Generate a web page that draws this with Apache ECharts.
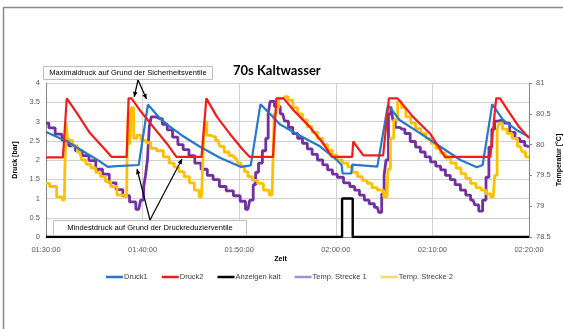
<!DOCTYPE html>
<html>
<head>
<meta charset="utf-8">
<script src="https://cdn.jsdelivr.net/npm/echarts@6/dist/echarts.min.js"></script>
<style>
html,body{margin:0;padding:0;background:#fff;}
#chart{width:563px;height:329px;}
</style>
</head>
<body>
<div id="chart"></div>
<script>
// ---- data (x = minutes after 01:30:00) ----
const xTickLabels = ['01:30:00','01:40:00','01:50:00','02:00:00','02:10:00','02:20:00'];
const seriesNames = ['Druck1','Druck2','Anzeigen kalt','Temp. Strecke 1','Temp. Strecke 2'];

const druck1 = [
[0,2.73],[2.2,2.48],[4.0,2.2],[5.6,1.96],[6.4,1.82],[7.3,1.84],[9.6,1.87],[10.55,3.44],
[11.8,3.08],[12.8,2.87],[14.0,2.65],[15.9,2.35],[18.0,2.06],[20.2,1.82],[21.2,1.86],[22.2,3.45],
[23.5,3.12],[24.2,2.93],[26.3,2.63],[28.4,2.35],[30.1,2.0],[30.6,1.87],[30.7,1.65],[31.6,1.65],[31.7,1.88],[34.3,1.83],[35.4,3.43],
[36.6,3.04],[38.7,2.7],[40.8,2.35],[42.9,2.0],[44.6,1.81],[45.2,1.87],[46.2,3.45],
[47.3,3.04],[48.7,2.78],[50,2.6]
];

const druck2 = [
[0,2.07],[1.75,2.07],[2.15,3.6],[3.2,3.22],[4.55,2.7],[6.3,2.22],[6.8,2.08],[8.35,2.08],[8.55,3.6],[8.85,3.6],
[9.7,3.3],[11.1,2.86],[12.5,2.43],[13.5,2.08],[16.1,2.08],[16.6,3.6],[17.7,3.12],[19.0,2.69],[20.4,2.26],[21.1,2.08],
[23.5,2.08],[23.85,3.6],[24.6,3.6],[25.6,3.3],[27.3,2.86],[28.7,2.43],[29.6,2.08],[31.7,2.08],[31.8,2.48],[32.85,2.12],
[34.9,2.12],[35.5,3.6],[36.4,3.6],[38.0,3.12],[39.75,2.69],[41.3,2.08],[46.0,2.08],[46.6,3.6],[47.0,3.6],[48.0,3.22],[49.0,2.85],[50,2.57]
];

const anzeigenKalt = [[0,0],[30.65,0],[30.65,1],[31.75,1],[31.75,0],[50,0]];

const temp1 = [
[0,80.35],[0.6,80.27],[1.3,80.17],[2.0,80.07],[2.7,79.98],[3.4,79.9],[4.1,79.82],[4.8,79.74],[5.5,79.6],[6.2,79.52],
[6.9,79.38],[7.6,79.27],[8.3,79.17],[9.0,79.07],[9.6,78.95],[10.0,79.1],[10.2,79.3],[10.4,79.5],[10.6,79.75],[10.8,80.3],
[11.0,80.45],[11.8,80.42],[12.3,80.33],[12.8,80.24],[13.4,80.12],[13.9,80.0],[14.5,79.92],[15.1,79.82],[15.7,79.7],[16.4,79.6],
[17.0,79.5],[17.6,79.43],[18.3,79.32],[19.0,79.25],[19.8,79.17],[20.4,79.08],[20.9,78.95],[21.3,79.1],[21.6,79.35],[21.8,79.55],
[22.2,79.7],[22.6,79.9],[22.9,80.1],[23.1,80.5],[23.3,80.7],[24.0,80.62],[24.5,80.5],[24.9,80.38],[25.3,80.28],[25.8,80.18],
[26.3,80.1],[26.8,80.02],[27.3,79.93],[27.8,79.84],[28.4,79.75],[28.9,79.67],[29.4,79.59],[29.9,79.52],[30.4,79.47],[31.2,79.38],
[31.7,79.32],[32.2,79.26],[32.7,79.18],[33.2,79.1],[33.7,79.04],[34.3,78.98],[34.6,78.9],[34.9,79.2],[35.1,79.5],[35.3,79.75],
[35.6,80.5],[35.8,80.62],[36.0,80.4],[36.3,80.28],[36.9,80.25],[37.4,80.18],[38.0,80.05],[38.5,79.96],[39.0,79.88],[39.5,79.8],
[40.1,79.72],[40.6,79.65],[41.1,79.59],[41.6,79.5],[42.1,79.43],[42.6,79.35],[43.2,79.26],[43.7,79.18],[44.2,79.1],[44.6,79.02],
[45.0,78.92],[45.4,79.1],[45.7,79.47],[46.0,79.96],[46.3,80.25],[46.6,80.38],[47.0,80.4],[47.7,80.35],[48.3,80.2],[48.8,80.1],
[49.3,80.05],[49.8,79.98],[50,79.96]
];

const temp2 = [
[0,79.37],[0.75,79.32],[1.45,79.15],[1.9,79.1],[2.0,79.6],[2.15,80.35],[2.3,80.1],[2.5,80.07],[3.0,79.98],[3.5,79.88],
[3.9,79.75],[4.4,79.68],[4.9,79.62],[5.4,79.55],[5.9,79.48],[6.4,79.4],[7.0,79.32],[7.7,79.18],[8.35,79.15],[8.45,80.0],
[8.6,80.55],[8.75,80.0],[8.95,80.6],[9.2,80.1],[9.6,80.15],[10.1,80.07],[10.6,80.03],[11.1,79.94],[11.8,79.9],[12.5,79.8],
[13.0,79.7],[13.5,79.64],[14.0,79.56],[14.6,79.48],[15.1,79.38],[15.6,79.26],[16.1,79.15],[16.3,79.6],[16.5,80.37],[16.8,80.15],
[17.3,80.13],[17.8,80.07],[18.2,79.97],[18.7,79.88],[19.2,79.82],[19.7,79.78],[20.0,79.7],[20.4,79.64],[20.7,79.56],[21.1,79.48],
[21.6,79.42],[22.2,79.37],[22.8,79.26],[23.4,79.18],[23.55,79.6],[23.7,80.5],[24.0,80.6],[24.2,80.75],[24.8,80.78],[25.3,80.72],
[25.8,80.6],[26.3,80.5],[26.8,80.4],[27.3,80.29],[27.8,80.2],[28.4,80.1],[28.9,80.0],[29.4,79.91],[29.9,79.83],[30.4,79.75],
[31.0,79.7],[31.5,79.64],[32.0,79.55],[32.5,79.48],[33.0,79.42],[33.5,79.37],[34.0,79.3],[34.6,79.26],[35.3,79.15],[35.5,79.6],
[35.8,80.1],[36.2,80.4],[36.6,80.7],[37.0,80.6],[37.5,80.45],[38.0,80.35],[38.5,80.26],[39.1,80.18],[39.6,80.1],[40.1,80.02],
[40.6,79.94],[41.1,79.86],[41.6,79.78],[42.2,79.7],[42.7,79.62],[43.2,79.53],[43.7,79.45],[44.2,79.37],[44.8,79.3],[45.3,79.26],
[45.8,79.2],[46.3,79.15],[46.6,79.5],[46.8,80.24],[47.0,80.35],[47.5,80.25],[48.0,80.18],[48.5,80.1],[49.1,79.97],[49.5,79.88],
[49.8,79.8],[50,79.8]
];

const titleText = '70s Kaltwasser';
const rightAxisTitle = 'Temperatur [°C]';
const noteTop = 'Maximaldruck auf Grund der Sicherheitsventile';
const noteBottom = 'Mindestdruck auf Grund der Druckreduzierventile';

// ---- chart ----
const colors = ['#2878C8','#F21C1C','#000000','#7030A0','#FFC000'];
const font = 'Liberation Sans, Arial, sans-serif';

function arrowHead(x1,y1,x2,y2){
  const dx=x2-x1, dy=y2-y1, L=Math.hypot(dx,dy), ux=dx/L, uy=dy/L;
  const len=5, hw=2.3;
  const bx=x2-ux*len, by=y2-uy*len;
  return {type:'polygon', z:100, silent:true,
    shape:{points:[[x2,y2],[bx-uy*hw,by+ux*hw],[bx+uy*hw,by-ux*hw]]},
    style:{fill:'#000'}};
}
function seg(x1,y1,x2,y2){
  return {type:'line', z:100, silent:true, shape:{x1,y1,x2,y2}, style:{stroke:'#000', lineWidth:1.2}};
}

const chart = echarts.init(document.getElementById('chart'), null, {renderer:'canvas'});
const lineSeries = (name, data, idx, width, extra) => Object.assign({
  name, type:'line', data, yAxisIndex: idx, showSymbol:false, symbol:'none',
  lineStyle:{width, color: colors[seriesNames.indexOf(name)]},
  itemStyle:{color: colors[seriesNames.indexOf(name)]},
  animation:false
}, extra||{});

chart.setOption({
  animation:false,
  color: colors,
  title:{text:titleText, left:233, top:64, padding:0,
    textStyle:{fontSize:13, fontWeight:'bold', fontFamily:'Lato, sans-serif', color:'#000'}},
  grid:{left:46, right:34, top:83, bottom:92, containLabel:false, outerBoundsMode:'none'},
  legend:{
    left:101, top:268, itemWidth:17, itemHeight:2.5, itemGap:14, icon:'rect',
    textStyle:{fontSize:7.5, color:'#404040', fontFamily:font, padding:[0,0,0,-4]},
    data:[
      {name:seriesNames[0]},{name:seriesNames[1]},{name:seriesNames[2]},
      {name:seriesNames[3], itemStyle:{color:'#A98CCB'}},
      {name:seriesNames[4], itemStyle:{color:'#FFD966'}}
    ]
  },
  xAxis:{
    type:'value', min:0, max:50, interval:10,
    name:'Zeit', nameLocation:'middle', nameGap:19,
    nameTextStyle:{fontSize:7, fontWeight:'bold', color:'#000', fontFamily:font, padding:[0,14,0,0]},
    axisLine:{show:true, lineStyle:{color:'#868686', width:1}},
    axisTick:{show:false},
    axisLabel:{fontSize:7.5, color:'#595959', fontFamily:font, margin:9,
      formatter:(v)=>xTickLabels[Math.round(v/10)]},
    splitLine:{show:true, lineStyle:{color:'#d0d0d0', width:1}}
  },
  yAxis:[
    {type:'value', min:0, max:4, interval:0.5,
     name:'Druck [bar]', nameLocation:'middle', nameGap:24, nameRotate:90,
     nameTextStyle:{fontSize:7, fontWeight:'bold', color:'#000', fontFamily:font},
     axisLine:{show:true, lineStyle:{color:'#868686'}},
     axisTick:{show:false},
     axisLabel:{fontSize:7.5, color:'#595959', fontFamily:font, margin:6},
     splitLine:{show:true, lineStyle:{color:'#d0d0d0', width:1}}},
    {type:'value', min:78.5, max:81, interval:0.5, position:'right',
     axisLine:{show:true, lineStyle:{color:'#868686'}},
     axisTick:{show:true, length:3, lineStyle:{color:'#868686'}},
     axisLabel:{fontSize:7.5, color:'#595959', fontFamily:font, margin:7},
     splitLine:{show:false}}
  ],
  series:[
    lineSeries(seriesNames[3], temp1, 1, 2.8, {step:'middle', z:2}),
    lineSeries(seriesNames[4], temp2, 1, 2.8, {step:'middle', z:2}),
    lineSeries(seriesNames[0], druck1, 0, 2.2, {z:3}),
    lineSeries(seriesNames[1], druck2, 0, 2.2, {z:4}),
    lineSeries(seriesNames[2], anzeigenKalt, 0, 2.4, {z:5})
  ],
  graphic:[
    {type:'rect', z:-5, silent:true, shape:{x:3.5, y:7.5, width:700, height:500},
     style:{fill:'none', stroke:'#8a8a8a', lineWidth:1.5}},
    {type:'text', z:50, silent:true, x:559, y:160, rotation:Math.PI/2,
     style:{x:0, y:0, text:rightAxisTitle, textAlign:'center', textVerticalAlign:'middle',
      font:'bold 7px Liberation Sans, Arial, sans-serif', fill:'#000'}},
    {type:'rect', z:100, silent:true, shape:{x:43.5, y:66.5, width:169, height:13},
     style:{fill:'#fff', stroke:'#bfbfbf', lineWidth:1}},
    {type:'text', z:101, silent:true, style:{x:128, y:73.3, text:noteTop, textAlign:'center', textVerticalAlign:'middle',
      font:'7.6px Liberation Sans, Arial, sans-serif', fill:'#000'}},
    seg(138,80,134.2,97), arrowHead(138,80,134.2,97),
    seg(138,80,146.5,99), arrowHead(138,80,146.5,99),
    {type:'rect', z:100, silent:true, shape:{x:53.5, y:220.5, width:193, height:15},
     style:{fill:'#fff', stroke:'#bfbfbf', lineWidth:1}},
    {type:'text', z:101, silent:true, style:{x:150, y:228.3, text:noteBottom, textAlign:'center', textVerticalAlign:'middle',
      font:'7.6px Liberation Sans, Arial, sans-serif', fill:'#000'}},
    seg(150,220,137,169), arrowHead(150,220,137,169),
    seg(150,220,182,159), arrowHead(150,220,182,159)
  ]
});
</script>
</body>
</html>
